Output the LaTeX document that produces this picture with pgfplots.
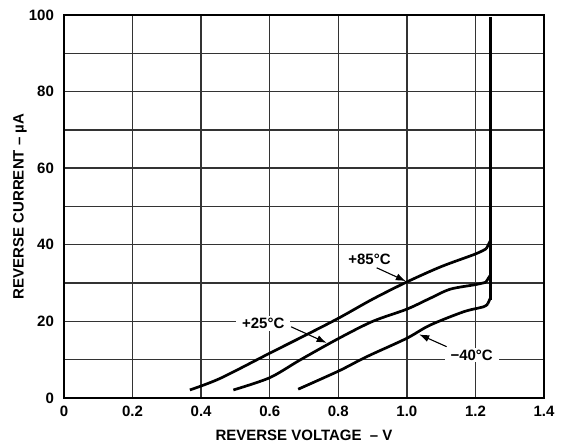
\documentclass[border=0pt]{standalone}
\usepackage{fontspec}
\setmainfont{Liberation Sans}
\usepackage{pgfplots}
\pgfplotsset{compat=1.18}
\usetikzlibrary{arrows.meta}
\begin{document}
\begin{tikzpicture}[font=\bfseries\fontsize{7.5}{8.5}\selectfont]
\path (-32pt,-24pt) rectangle (250.5pt,199pt);
\begin{axis}[
  scale only axis, width=240pt, height=191.5pt,
  at={(0,0)}, anchor=south west,
  xmin=0, xmax=1.4, ymin=0, ymax=100,
  xtick={0,0.2,0.4,0.6,0.8,1.0,1.2,1.4},
  xticklabels={0,0.2,0.4,0.6,0.8,1.0,1.2,1.4},
  ytick={0,20,40,60,80,100},
  minor ytick={10,30,50,70,90},
  grid=both,
  major grid style={line width=0.7pt, black!80},
  minor grid style={line width=0.7pt, black!80},
  major tick length=0pt, minor tick length=0pt,
  axis line style={line width=1.3pt},
  tick label style={font=\bfseries\fontsize{7.5}{8.5}\selectfont},
  /pgf/number format/assume math mode=true,
  xticklabel style={yshift=-0.5pt},
  yticklabel style={xshift=-1.5pt},
  xlabel={REVERSE VOLTAGE \ – V},
  ylabel={REVERSE CURRENT – µA},
  xlabel style={at={(axis description cs:0.5,-0.0966)}, anchor=center},
  ylabel style={at={(axis description cs:-0.0917,0.5)}, anchor=center},
  every axis plot/.append style={line width=1.35pt, black, line join=round},
]
% +85 C
\addplot[smooth, tension=0.5] coordinates {(0.367,2.1) (0.455,5.1) (0.6,11.7) (0.7,16.2) (0.8,20.8) (0.9,25.8) (1.0,30.3) (1.1,34.3) (1.2,37.6) (1.232,39.0)};
\addplot[sharp plot] coordinates {(1.232,39.0) (1.243,41.0)};
% +25 C
\addplot[smooth, tension=0.5] coordinates {(0.494,2.1) (0.6,5.3) (0.688,9.9) (0.8,15.5) (0.9,20.0) (1.0,23.2) (1.067,26.0) (1.126,28.4) (1.2,29.6) (1.230,30.2)};
\addplot[sharp plot] coordinates {(1.230,30.2) (1.243,32.0)};
% -40 C
\addplot[smooth, tension=0.5] coordinates {(0.683,2.3) (0.8,7.0) (0.863,9.9) (0.9,11.5) (1.0,15.6) (1.067,19.0) (1.165,22.5) (1.223,23.8) (1.236,24.6)};
\addplot[sharp plot] coordinates {(1.236,24.6) (1.243,26.0)};
% breakdown
\addplot[sharp plot, line width=1.6pt] coordinates {(1.243,25.6) (1.243,99.6)};

\draw[line width=0.55pt, -{Latex[length=5pt,width=3.6pt]}] (axis cs:0.912,34.0) -- (axis cs:0.997,30.5);
\draw[line width=0.55pt, -{Latex[length=5pt,width=3.6pt]}] (axis cs:0.662,18.6) -- (axis cs:0.766,14.4);
\draw[line width=0.55pt, -{Latex[length=5pt,width=3.6pt]}] (axis cs:1.116,13.4) -- (axis cs:1.036,16.6);
\node[fill=white, inner xsep=2pt, inner ysep=1pt] at (axis cs:0.891,36.2) {+85°C};
\node[fill=white, inner xsep=3pt, inner ysep=1pt] at (axis cs:0.581,19.4) {+25°C};
\node[fill=white, inner xsep=3pt, inner ysep=1pt] at (axis cs:1.189,11.2) {−40°C};
\end{axis}
\end{tikzpicture}
\end{document}
